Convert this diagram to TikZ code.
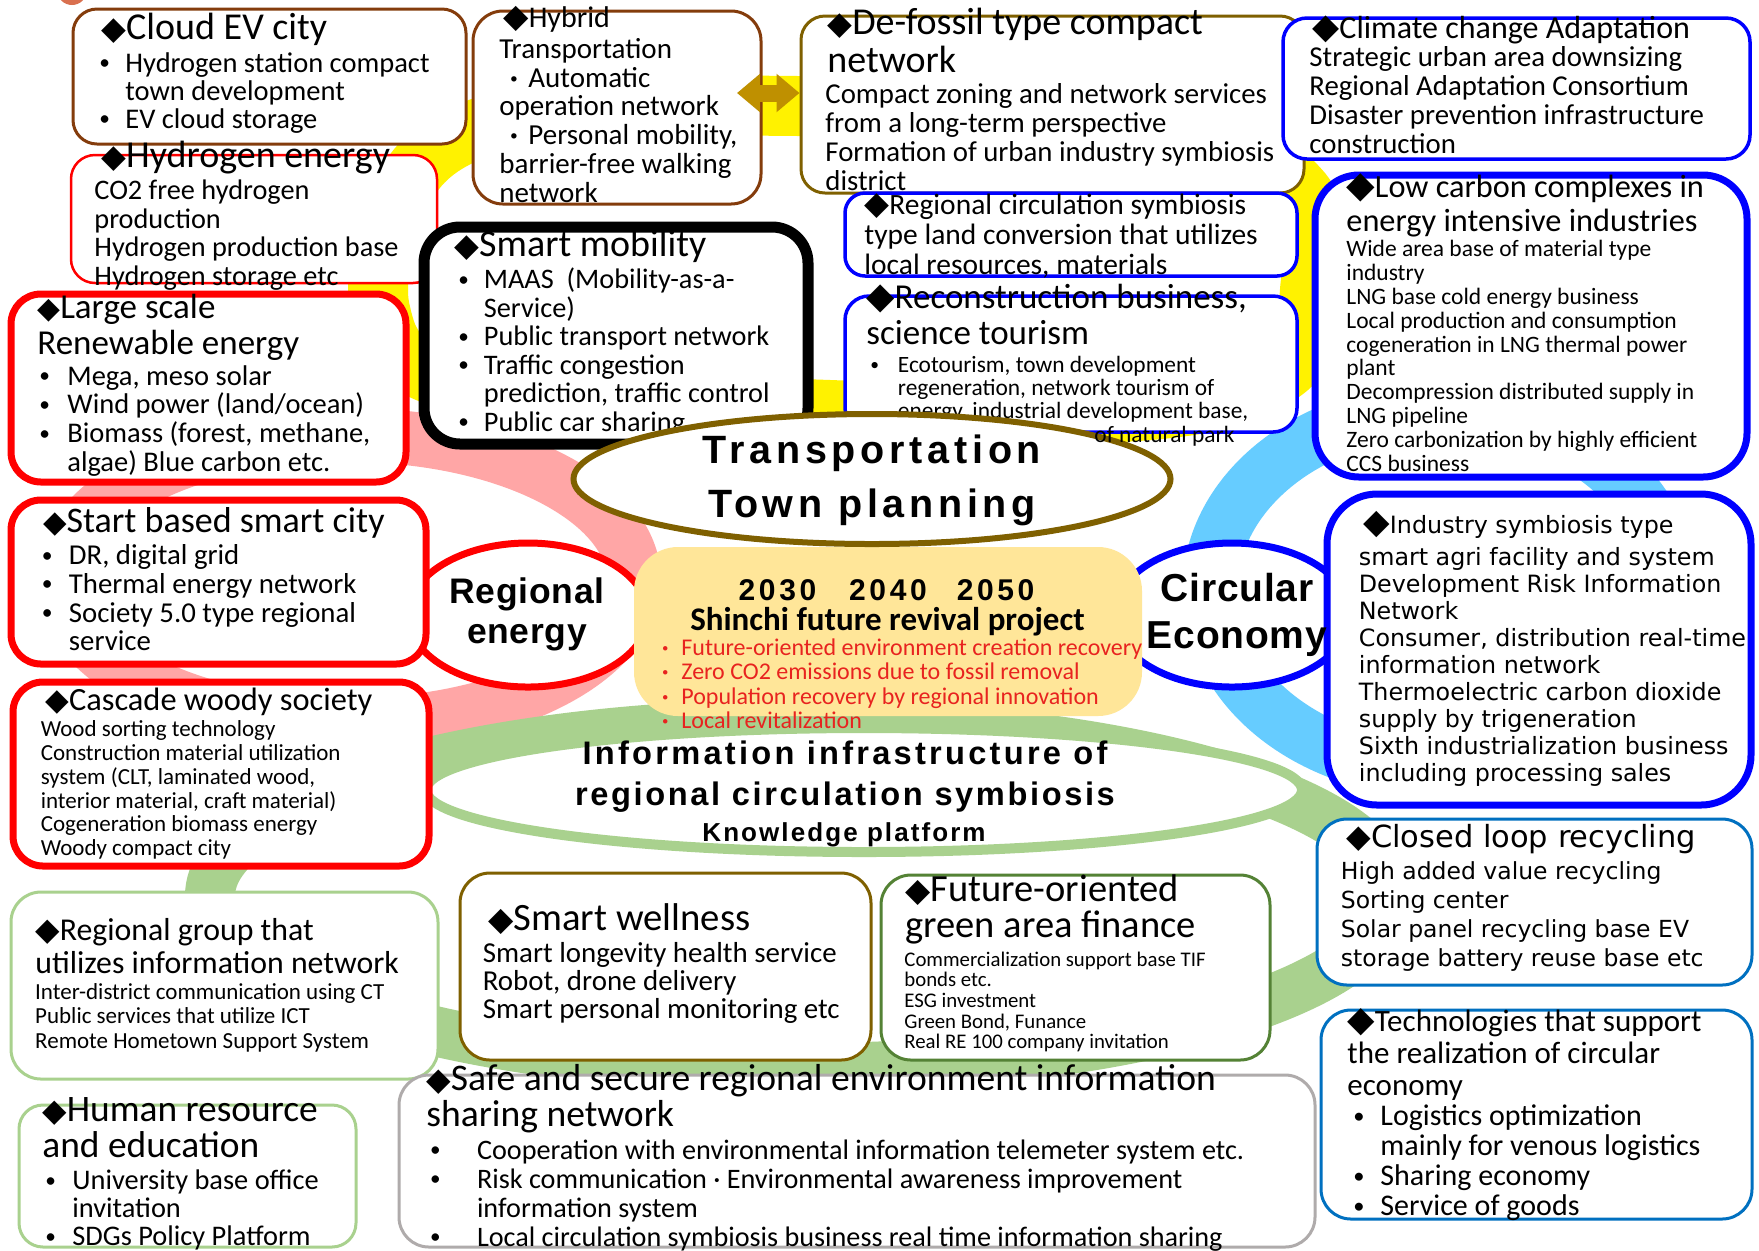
\documentclass[tikz,border=0pt]{standalone}
\usepackage{fontspec}
\usepackage{graphicx}
\usetikzlibrary{shapes.geometric,fit,arrows.meta}
\setmainfont{Carlito}
\newfontfamily\dv{DejaVu Sans}
\newfontfamily\lsA[LetterSpace=12]{Liberation Sans}
\newfontfamily\lsB[LetterSpace=10]{Liberation Sans}
\newfontfamily\lsC[LetterSpace=8]{Liberation Sans}
\newfontfamily\lsD[LetterSpace=2]{Liberation Sans}
\newcommand\Fs[2]{\fontsize{#1pt}{#2pt}\selectfont}
\newcommand\Dia[1][0.85]{{\dv\scalebox{#1}{◆}}}
\newcommand\Blk[1]{\vtop{\let\\\cr\halign{##\hfil\cr#1\crcr}}}
\newcommand\CBlk[1]{\vtop{\let\\\cr\halign{\hfil##\hfil\cr#1\crcr}}}
\newcommand\Bu[1]{\makebox[#1pt][l]{\raisebox{0.08em}{\scalebox{0.75}{•}}}}
\newcommand\Ind[1]{\hspace*{#1pt}}
\newcommand\Kd{\makebox[1em][c]{\textbf{·}}}
\definecolor{cbrown}{HTML}{843C0C}
\definecolor{colive}{HTML}{7F6000}
\definecolor{cblue}{HTML}{0000FF}
\definecolor{cmblue}{HTML}{0070C0}
\definecolor{cred}{HTML}{FF0000}
\definecolor{cgreen}{HTML}{A9D18E}
\definecolor{cdgreen}{HTML}{548235}
\definecolor{cgray}{HTML}{AFABAB}
\definecolor{cyel}{HTML}{FFE699}
\definecolor{ctred}{HTML}{E8231F}
\definecolor{cgold}{HTML}{BF9000}
\definecolor{cpink}{HTML}{FFA6A6}
\definecolor{clblue}{HTML}{66CCFF}
\definecolor{ccoral}{HTML}{D9704F}
\begin{document}
\begin{tikzpicture}[x=0.5pt,y=-0.5pt,
  bx/.style={draw, fill=white, inner sep=0pt, rectangle},
  tx/.style={inner sep=0pt, anchor=base west},
  tc/.style={inner sep=0pt, anchor=base},
  ring/.style={line width=#1}]
\useasboundingbox (0,0) rectangle (1759,1250);
\fill[white] (0,0) rectangle (1759,1250);
\fill[ccoral] (72,-10) circle (7.5pt);
% background rings
\draw[yellow, ring=30pt] plot[smooth cycle, tension=0.6] coordinates {(800,106) (1150,112) (1300,190) (1310,290) (1285,370) (1150,410) (830,410) (470,385) (380,310) (420,165) (560,110)};
\draw[cpink, ring=27pt] (348,580) ellipse [x radius=143pt, y radius=72.5pt];
\draw[clblue, ring=27.5pt] (1440,590) ellipse [x radius=115pt, y radius=90pt];
\draw[cgreen, ring=25pt] (800,896) ellipse [x radius=295pt, y radius=86pt];
% central ellipses
\node[ellipse, draw=cgreen, line width=5pt, fill=white, minimum width=438pt, minimum height=62pt, inner sep=0] (info) at (864,790) {};
\node[ellipse, draw=cred, line width=3.5pt, fill=white, minimum width=120pt, minimum height=72pt, inner sep=0] (regE) at (528,615) {};
\node[ellipse, draw=cblue, line width=3.5pt, fill=white, minimum width=118pt, minimum height=72pt, inner sep=0] (circE) at (1232,615) {};
\node[fit={(634,547) (1142,716)}, inner sep=0, fill=cyel, rounded corners=22pt] (ctr) {};
% boxes
\node[bx, draw=cbrown, line width=1.5pt, rounded corners=12pt, fit={(73,9) (466,144)}] (cloud) {};
\node[bx, draw=cbrown, line width=1.5pt, rounded corners=15pt, fit={(473,11) (761,204)}] (hyb) {};
\node[bx, draw=colive, line width=1.5pt, rounded corners=12pt, fit={(801,16) (1304,193)}] (dfs) {};
\node[bx, draw=cblue, line width=1.75pt, rounded corners=12pt, fit={(1283,18) (1750,159)}] (clim) {};
\node[bx, draw=cred, line width=1.25pt, rounded corners=12pt, fit={(71,155) (437,283)}] (hyd) {};
\node[bx, draw=cred, line width=3.5pt, rounded corners=15pt, fit={(11,294) (406,482)}] (large) {};
\node[bx, draw=black, line width=5.5pt, rounded corners=18pt, fit={(424,227) (808,444)}] (smob) {};
\node[bx, draw=cblue, line width=1.75pt, rounded corners=10pt, fit={(845,193) (1297,276)}] (rcirc) {};
\node[bx, draw=cblue, line width=1.75pt, rounded corners=12pt, fit={(845,296) (1297,432)}] (recon) {};
\node[bx, draw=cblue, line width=3.5pt, rounded corners=22pt, fit={(1315,175) (1747,477)}] (lowc) {};
\node[bx, draw=cred, line width=3.5pt, rounded corners=15pt, fit={(11,500) (426,664)}] (start) {};
\node[bx, draw=cblue, line width=3.5pt, rounded corners=25pt, fit={(1327,494) (1751,805)}] (indus) {};
\node[bx, draw=cred, line width=3.5pt, rounded corners=15pt, fit={(13,682) (429,866)}] (casc) {};
\node[bx, draw=cgreen, line width=1.5pt, rounded corners=15pt, fit={(11,892) (438,1079)}] (rgrp) {};
\node[bx, draw=colive, line width=1.5pt, rounded corners=15pt, fit={(460,873) (871,1060)}] (well) {};
\node[bx, draw=cdgreen, line width=1.5pt, rounded corners=15pt, fit={(881,875) (1270,1060)}] (fin) {};
\node[bx, draw=cmblue, line width=1.5pt, rounded corners=15pt, fit={(1317,819) (1752,985)}] (cloop) {};
\node[bx, draw=cmblue, line width=1.5pt, rounded corners=15pt, fit={(1321,1010) (1752,1219)}] (tech) {};
\node[bx, draw=cgray, line width=1.5pt, rounded corners=15pt, fit={(399,1075) (1315,1247)}] (safe) {};
\node[bx, draw=cgreen, line width=1.5pt, rounded corners=12pt, fit={(19,1105) (356,1247)}] (human) {};
% box texts
\node[tx] (cloudT) at (101,39) {\Fs{19}{19}\Dia Cloud EV city};
\node[tx] (cloudB) at (99,72) {\Fs{14.25}{14}\Blk{\Bu{13}Hydrogen station compact\\\Ind{13}town development\\\Bu{13}EV cloud storage}};
\node[tx] (hybT) at (503,27) {\Fs{15}{15}\Dia[1.1]Hybrid};
\node[tx] (hybB) at (499,58.5) {\Fs{14.5}{14.35}\Blk{Transportation\\\Kd Automatic\\operation network\\\Kd Personal mobility,\\barrier-free walking\\network}};
\node[tx] (dfT) at (827,34) {\Fs{19}{19}\Blk{\Dia De-fossil type compact\\network}};
\node[tx] (dfB) at (825,103.4) {\Fs{14.4}{14.5}\Blk{Compact zoning and network services\\from a long-term perspective\\Formation of urban industry symbiosis\\district}};
\node[tx] (clT) at (1312,38) {\Fs{16}{16}\Dia[1.1]Climate change Adaptation};
\node[tx] (clB) at (1309,66.3) {\Fs{14.4}{14.5}\Blk{Strategic urban area downsizing\\Regional Adaptation Consortium\\Disaster prevention infrastructure\\construction}};
\node[tx] (hyT) at (101,167.6) {\Fs{19}{19}\Dia Hydrogen energy};
\node[tx] (hyB) at (94,199.8) {\Fs{14.15}{14.25}\Blk{CO2 free hydrogen\\production\\Hydrogen production base\\Hydrogen storage etc}};
\node[tx] (lsT) at (37,318.3) {\Fs{17.5}{18}\Blk{\Dia Large scale\\Renewable energy}};
\node[tx] (lsB) at (39,385) {\Fs{14.25}{14.35}\Blk{\Bu{14}Mega, meso solar\\\Bu{14}Wind power (land/ocean)\\\Bu{14}Biomass (forest, methane,\\\Ind{14}algae) Blue carbon etc.}};
\node[tx] (smT) at (454,256.3) {\Fs{19}{19}\Dia Smart mobility};
\node[tx] (smB) at (458,288.5) {\Fs{14.15}{14.25}\Blk{\Bu{12.75}MAAS\hspace{0.45em}(Mobility-as-a-\\\Ind{12.75}Service)\\\Bu{12.75}Public transport network\\\Bu{12.75}Traffic congestion\\\Ind{12.75}prediction, traffic control\\\Bu{12.75}Public car sharing}};
\node[tx] (rcB) at (864,214) {\Fs{14.75}{15}\Blk{\Dia[1.1]Regional circulation symbiosis\\type land conversion that utilizes\\local resources, materials}};
\node[tx] (reT) at (866,308) {\Fs{17.5}{18}\Blk{\Dia[1.05]Reconstruction business,\\science tourism}};
\node[tx] (reB) at (870,372.3) {\Fs{11.7}{11.6}\Blk{\Bu{13.75}Ecotourism, town development\\\Ind{13.75}regeneration, network tourism of\\\Ind{13.75}energy, industrial development base,}};
\node[tx] (lcT) at (1346,197.5) {\Fs{16.15}{16.75}\Blk{\Dia[1.15]Low carbon complexes in\\energy intensive industries}};
\node[tx] (lcB) at (1346,256.8) {\Fs{11.75}{11.9}\Blk{Wide area base of material type\\industry\\LNG base cold energy business\\Local production and consumption\\cogeneration in LNG thermal power\\plant\\Decompression distributed supply in\\LNG pipeline\\Zero carbonization by highly efficient\\CCS business}};
\node[tx] (scT) at (42.6,532.9) {\Fs{18}{18}\Dia Start based smart city};
\node[tx] (scB) at (41.5,564.4) {\Fs{14.4}{14.4}\Blk{\Bu{13.5}DR, digital grid\\\Bu{13.5}Thermal energy network\\\Bu{13.5}Society 5.0 type regional\\\Ind{13.5}service}};
\node[tx] (isT) at (1363,533.5) {\Fs{11.9}{13.5}\dv\Dia[1.45]Industry symbiosis type};
\node[tx] (isB) at (1358.5,565.7) {\Fs{11.9}{13.5}\dv\Blk{smart agri facility and system\\Development Risk Information\\Network\\Consumer, distribution real-time\\information network\\Thermoelectric carbon dioxide\\supply by trigeneration\\Sixth industrialization business\\including processing sales}};
\node[tx] (cwT) at (45,710.2) {\Fs{16.2}{16.2}\Dia[0.95]Cascade woody society};
\node[tx] (cwB) at (40.4,736.7) {\Fs{11.5}{11.9}\Blk{Wood sorting technology\\Construction material utilization\\system (CLT, laminated wood,\\interior material, craft material)\\Cogeneration biomass energy\\Woody compact city}};
\node[tx] (rgT) at (35,940) {\Fs{15.9}{16.9}\Blk{\Dia[1.0]Regional group that\\utilizes information network}};
\node[tx] (rgB) at (34.8,999.2) {\Fs{11.5}{12.35}\Blk{Inter-district communication using CT\\Public services that utilize ICT\\Remote Hometown Support System}};
\node[tx] (swT) at (488,930.8) {\Fs{19.35}{19}\Dia Smart wellness};
\node[tx] (swB) at (482.4,962.7) {\Fs{14.45}{14}\Blk{Smart longevity health service\\Robot, drone delivery\\Smart personal monitoring etc}};
\node[tx] (gfT) at (905,901.5) {\Fs{19.25}{18}\Blk{\Dia Future-oriented\\green area finance}};
\node[tx] (gfB) at (904,966) {\Fs{10.4}{10.35}\Blk{Commercialization support base TIF\\bonds etc.\\ESG investment\\Green Bond, Funance\\Real RE 100 company invitation}};
\node[tx] (clrT) at (1346,847.5) {\Fs{15.25}{15.25}\dv\Dia[1.05]Closed loop recycling};
\node[tx] (clrB) at (1340.5,879.8) {\Fs{11.75}{14.4}\dv\Blk{High added value recycling\\Sorting center\\Solar panel recycling base EV\\storage battery reuse base etc}};
\node[tx] (teT) at (1347,1031.7) {\Fs{15.5}{16}\Blk{\Dia[1.15]Technologies that support\\the realization of circular\\economy}};
\node[tx] (teB) at (1353,1125.7) {\Fs{15}{15}\Blk{\Bu{13.5}Logistics optimization\\\Ind{13.5}mainly for venous logistics\\\Bu{13.5}Sharing economy\\\Bu{13.5}Service of goods}};
\node[tx] (ssT) at (426,1090.8) {\Fs{18.8}{18}\Blk{\Dia Safe and secure regional environment information\\sharing network}};
\node[tx] (ssB) at (429.6,1159) {\Fs{14.1}{14.5}\Blk{\Bu{23.5}Cooperation with environmental information telemeter system etc.\\\Bu{23.5}Risk communication · Environmental awareness improvement\\\Ind{23.5}information system\\\Bu{23.5}Local circulation symbiosis business real time information sharing}};
\node[tx] (hrT) at (42,1121) {\Fs{18.7}{18}\Blk{\Dia Human resource\\and education}};
\node[tx] (hrB) at (45,1189.3) {\Fs{14.2}{14}\Blk{\Bu{13.5}University base office\\\Ind{13.5}invitation\\\Bu{13.5}SDGs Policy Platform}};
% transportation ellipse
\node[ellipse, draw=colive, line width=3pt, fill=white, minimum width=298.5pt, minimum height=65pt, inner sep=0] (trE) at (872,479) {};
\node[tc] (trT) at (872,463) {\Fs{19.75}{27}\lsA\bfseries\CBlk{Transportation\\Town planning}};
\node[tx] (reB2) at (1094,442) {\Fs{11.7}{11.6}of natural park};
% double arrow
\coordinate (arL) at (737,93);
\draw[draw=cgold, line width=8.5pt, {Triangle[width=18.5pt,length=11.5pt]}-{Triangle[width=18.5pt,length=11.5pt]}] (arL) -- (arL -| dfs.west);
% centre texts
\node[tc] (regT) at (527,603) {\Fs{17.75}{20}\lsD\bfseries\CBlk{Regional\\energy}};
\node[tc] (circT) at (1237,601) {\Fs{19.5}{23.5}\lsD\bfseries\CBlk{Circular\\Economy}};
\node[tc] (y2030) at (777.5,600) {\Fs{15}{15}\lsA\bfseries 2030};
\node[tc] (y2040) at (888,600) {\Fs{15}{15}\lsA\bfseries 2040};
\node[tc] (y2050) at (995.6,600) {\Fs{15}{15}\lsA\bfseries 2050};
\node[tc] (shinchi) at (887.5,630) {\Fs{16.5}{16.5}\bfseries Shinchi future revival project};
\node[tx, text=ctred] (redl) at (653,655) {\Fs{12}{12.3}\Blk{\Kd\,Future-oriented environment creation recovery\\\Kd\,Zero CO2 emissions due to fossil removal\\\Kd\,Population recovery by regional innovation\\\Kd\,Local revitalization}};
\node[tc] (inf1) at (845,764.8) {\Fs{16.3}{16}\lsB\bfseries Information infrastructure of};
\node[tc] (inf2) at (845,805) {\Fs{16.3}{16}\lsC\bfseries regional circulation symbiosis};
\node[tc] (inf3) at (844,841) {\Fs{13}{13}\lsC\bfseries Knowledge platform};
\end{tikzpicture}
\end{document}
